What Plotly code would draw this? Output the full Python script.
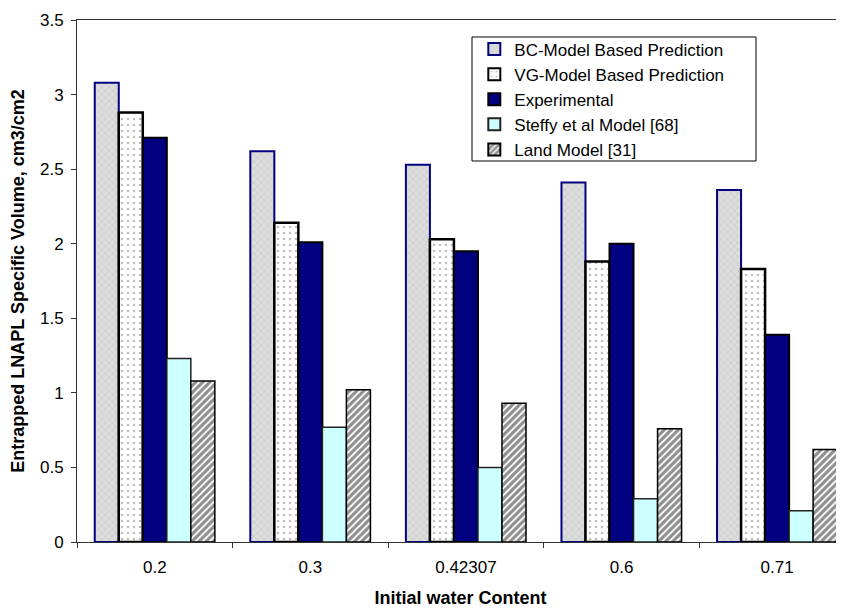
import plotly.graph_objects as go

categories = ["0.2", "0.3", "0.42307", "0.6", "0.71"]
bc_model = [3.08, 2.62, 2.53, 2.41, 2.36]
vg_model = [2.88, 2.14, 2.03, 1.88, 1.83]
experimental = [2.71, 2.01, 1.95, 2.00, 1.39]
steffy_model = [1.23, 0.77, 0.50, 0.29, 0.21]
land_model = [1.08, 1.02, 0.93, 0.76, 0.62]

FONT = "Liberation Sans, Arial, sans-serif"

fig = go.Figure()
fig.add_trace(go.Bar(
    name="BC-Model Based Prediction", x=categories, y=bc_model,
    marker=dict(color="#dcdcdc", line=dict(color="#000080", width=2),
                pattern=dict(shape="x", bgcolor="#dcdcdc", fgcolor="#bcbcbc", size=5, solidity=0.3)),
))
fig.add_trace(go.Bar(
    name="VG-Model Based Prediction", x=categories, y=vg_model,
    marker=dict(color="#ffffff", line=dict(color="#000000", width=2.5),
                pattern=dict(shape=".", bgcolor="#ffffff", fgcolor="#808080", size=6, solidity=0.15)),
))
fig.add_trace(go.Bar(
    name="Experimental", x=categories, y=experimental,
    marker=dict(color="#000080", line=dict(color="#000000", width=2)),
))
fig.add_trace(go.Bar(
    name="Steffy et al Model [68]", x=categories, y=steffy_model,
    marker=dict(color="#ccffff", line=dict(color="#222222", width=1.5)),
))
fig.add_trace(go.Bar(
    name="Land Model [31]", x=categories, y=land_model,
    marker=dict(color="#ffffff", line=dict(color="#000000", width=1.5),
                pattern=dict(shape="/", bgcolor="#ffffff", fgcolor="#202020", size=5, solidity=0.65)),
))

# The page body adds an 8px offset; margins compensate so the plot area
# sits at x 77..844 and y 20..542 in the browser window.
fig.update_layout(
    width=844, height=610,
    margin=dict(l=69, r=8, t=12, b=76),
    paper_bgcolor="white", plot_bgcolor="white",
    barmode="group", bargap=0.228, bargroupgap=0,
    font=dict(family=FONT, size=17, color="black"),
    showlegend=True,
    legend=dict(
        x=0.518, y=0.978, xanchor="left", yanchor="top",
        bgcolor="rgba(0,0,0,0)", borderwidth=0,
        font=dict(family=FONT, size=17, color="black"),
        traceorder="normal", itemsizing="constant",
    ),
    shapes=[dict(
        type="rect", xref="paper", yref="paper",
        x0=(472 - 77) / 767, x1=(756 - 77) / 767,
        y0=(542 - 161) / 522, y1=(542 - 37) / 522,
        line=dict(color="black", width=1), fillcolor="white", layer="below",
    )],
    xaxis=dict(
        type="category", range=[-0.5, 4.43], automargin=False,
        showline=True, linecolor="#333333", linewidth=1, mirror=True,
        ticks="outside", tickson="boundaries", ticklen=5, tickcolor="#333333",
        ticklabelstandoff=10,
        showgrid=False, zeroline=False,
        tickfont=dict(family=FONT, size=17),
        title=dict(text="<b>Initial water Content</b>", font=dict(family=FONT, size=18), standoff=14),
    ),
    yaxis=dict(
        range=[0, 3.5], dtick=0.5, tick0=0, automargin=False,
        showline=True, linecolor="#333333", linewidth=1,
        ticks="outside", ticklen=5, tickcolor="#333333",
        ticklabelstandoff=4,
        showgrid=False, zeroline=False,
        tickfont=dict(family=FONT, size=17),
        title=dict(text="<b>Entrapped LNAPL Specific Volume, cm3/cm2</b>", font=dict(family=FONT, size=18), standoff=11),
    ),
)

fig.write_html("out.html")
